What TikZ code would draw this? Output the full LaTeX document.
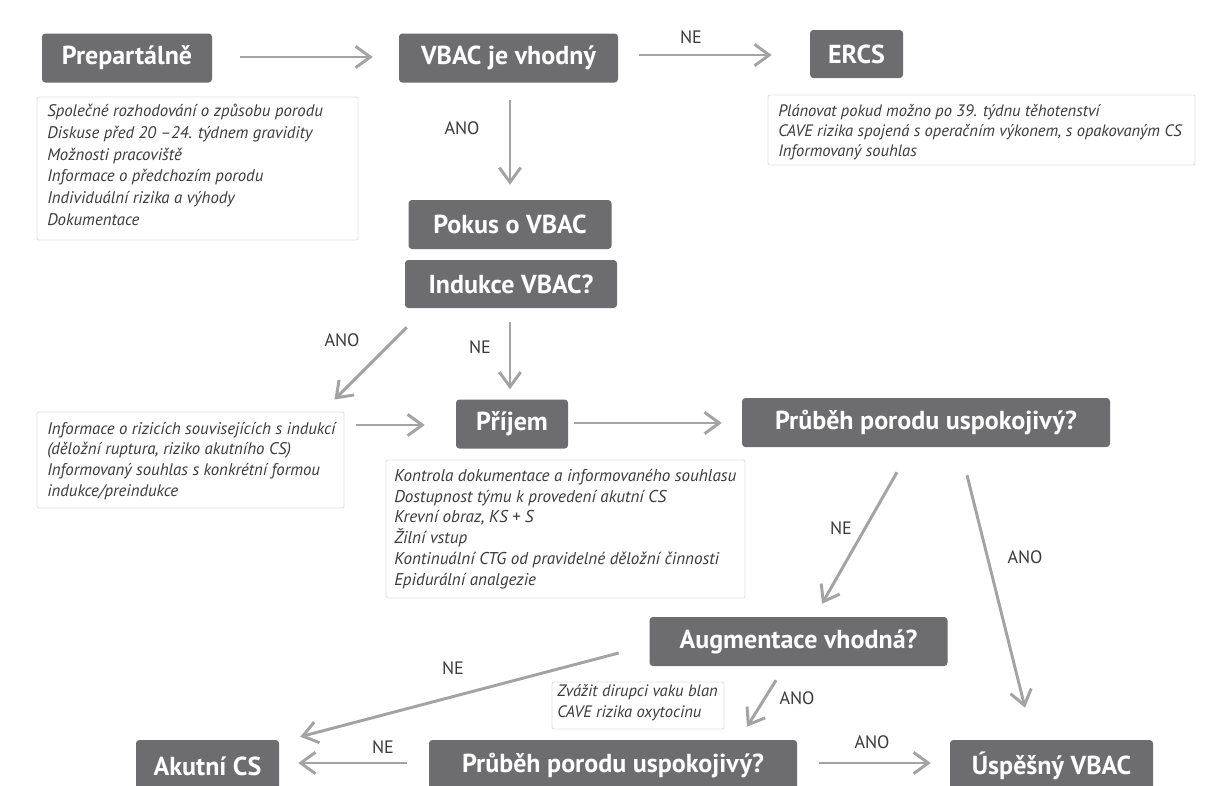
\documentclass[tikz,border=0pt]{standalone}
\usepackage{fontspec}
\setmainfont{PT Sans}
\usetikzlibrary{arrows.meta}
\definecolor{boxgray}{HTML}{6D6D6F}
\definecolor{arrgray}{HTML}{A3A3A3}
\definecolor{infotext}{HTML}{3C3C3C}
\definecolor{infoborder}{HTML}{E2E2E2}
\definecolor{lbltext}{HTML}{3A3A3A}
\begin{document}
\begin{tikzpicture}[x=0.75pt,y=-0.75pt,
  sz/.style 2 args={minimum width=#1*0.75pt, minimum height=#2*0.75pt},
  box/.style={fill=boxgray, rounded corners=2.5pt, text=white, inner sep=0pt,
    font=\fontsize{19.5}{21}\selectfont\bfseries},
  infobox/.style={draw=infoborder, line width=0.7pt, fill=white, rounded corners=1.5pt, inner sep=0pt},
  infotxt/.style={anchor=west, align=left, text=infotext, inner sep=0pt},
  flow/.style={draw=arrgray, line width=2.2pt, -{Straight Barb[length=11pt,width=16pt]}},
  lbl/.style={text=lbltext, font=\fontsize{13.5}{15}\selectfont, inner sep=0pt},
]
\clip (0,0) rectangle (1205,785);
\fill[white] (0,0) rectangle (1205,785);

% main boxes
\node[box, sz={170}{49}] (prep) at (127,58) {Prepartálně};
\node[box, sz={219}{49}] (vbac) at (508.5,58) {VBAC je vhodný};
\node[box, sz={93}{48}] (ercs) at (856.5,54) {ERCS};
\node[box, sz={203}{49}] (pokus) at (510,224.5) {Pokus o VBAC};
\node[box, sz={212}{48}] (indukce) at (511,284) {Indukce VBAC?};
\node[box, sz={112}{49}] (prijem) at (512,424) {Příjem};
\node[box, sz={368}{49}] (prubeh1) at (926,422.5) {Průběh porodu uspokojivý?};
\node[box, sz={298}{49}] (augm) at (798.5,641.5) {Augmentace vhodná?};
\node[box, sz={143}{52}] (akut) at (207.5,766) {Akutní CS};
\node[box, sz={368}{52}] (prubeh2) at (613,766) {Průběh porodu uspokojivý?};
\node[box, sz={203}{52}] (uspesny) at (1051.5,766) {Úspěšný VBAC};

% info boxes
\node[infobox, sz={321}{143}] (prepinfo) at (197.5,168.5) {};
\node[infotxt, font=\fontsize{12.6}{16.3}\selectfont\itshape] (prepinfotxt) at (47,165) {Společné rozhodování o způsobu porodu\\
Diskuse před 20 –24. týdnem gravidity\\
Možnosti pracoviště\\
Informace o předchozím porodu\\
Individuální rizika a výhody\\
Dokumentace};

\node[infobox, sz={427}{70}] (ercsinfo) at (981.5,130) {};
\node[infotxt, font=\fontsize{12.4}{15}\selectfont\itshape] (ercsinfotxt) at (778,132) {Plánovat pokud možno po 39. týdnu těhotenství\\
CAVE rizika spojená s operačním výkonem, s opakovaným CS\\
Informovaný souhlas};

\node[infobox, sz={307}{96}] (indinfo) at (190.5,460) {};
\node[infotxt, font=\fontsize{12.6}{15.6}\selectfont\itshape] (indinfotxt) at (47,461) {Informace o rizicích souvisejících s indukcí\\
(děložní ruptura, riziko akutního CS)\\
Informovaný souhlas s konkrétní formou\\
indukce/preindukce};

\node[infobox, sz={359}{138}] (prijinfo) at (565.5,529) {};
\node[infotxt, font=\fontsize{12.8}{15.6}\selectfont\itshape] (prijinfotxt) at (394,529) {Kontrola dokumentace a informovaného souhlasu\\
Dostupnost týmu k provedení akutní CS\\
Krevní obraz, KS + S\\
Žilní vstup\\
Kontinuální CTG od pravidelné děložní činnosti\\
Epidurální analgezie};

\node[infobox, sz={172}{47}] (zvinfo) at (638,705.5) {};
\node[infotxt, font=\fontsize{12.4}{15.6}\selectfont\itshape] (zvinfotxt) at (557,703) {Zvážit dirupci vaku blan\\
CAVE rizika oxytocinu};

% connectors
\draw[flow] ([shift={(28,-1)}]prep.east) -- ([shift={(-26,-1)}]vbac.west);
\draw[flow] ([shift={(21,-3)}]vbac.east) -- ([shift={(-38,1)}]ercs.west);
\draw[flow] ([shift={(1.5,17.5)}]vbac.south) -- ([shift={(0,-15)}]pokus.north);
\draw[flow] ([shift={(2,19)}]indukce.south west) -- ([shift={(-10,-12)}]indinfo.north east);
\draw[flow] ([shift={(-1,14)}]indukce.south) -- ([shift={(-2,-10)}]prijem.north);
\draw[flow] ([shift={(12,-35)}]indinfo.east) -- ([shift={(-31,1)}]prijem.west);
\draw[flow] ([shift={(6,-1)}]prijem.east) -- ([shift={(-20,0.5)}]prubeh1.west);
\draw[flow] ([shift={(-29,25)}]prubeh1.south) -- ([shift={(23.5,-13)}]augm.north);
\draw[flow] ([shift={(41,28)}]prubeh1.south) -- ([shift={(-26.5,-32)}]uspesny.north);
\draw[flow] ([shift={(-30.5,11.5)}]augm.west) -- ([shift={(21,-3)}]akut.north east);
\draw[flow] ([shift={(-22.5,14)}]augm.south) -- ([shift={(134,-13)}]prubeh2.north);
\draw[flow] ([shift={(-22,-3)}]prubeh2.west) -- ([shift={(19,-3)}]akut.east);
\draw[flow] ([shift={(22,-3)}]prubeh2.east) -- ([shift={(-19,-3)}]uspesny.west);

% labels
\node[lbl] (l1) at (691,37) {NE};
\node[lbl] (l2) at (462,128) {ANO};
\node[lbl] (l3) at (342,340) {ANO};
\node[lbl] (l4) at (480,347) {NE};
\node[lbl] (l5) at (841,528) {NE};
\node[lbl] (l6) at (1025,557) {ANO};
\node[lbl] (l7) at (453,668) {NE};
\node[lbl] (l8) at (797,698) {ANO};
\node[lbl] (l9) at (383,747) {NE};
\node[lbl] (l10) at (872,742) {ANO};
\end{tikzpicture}
\end{document}
